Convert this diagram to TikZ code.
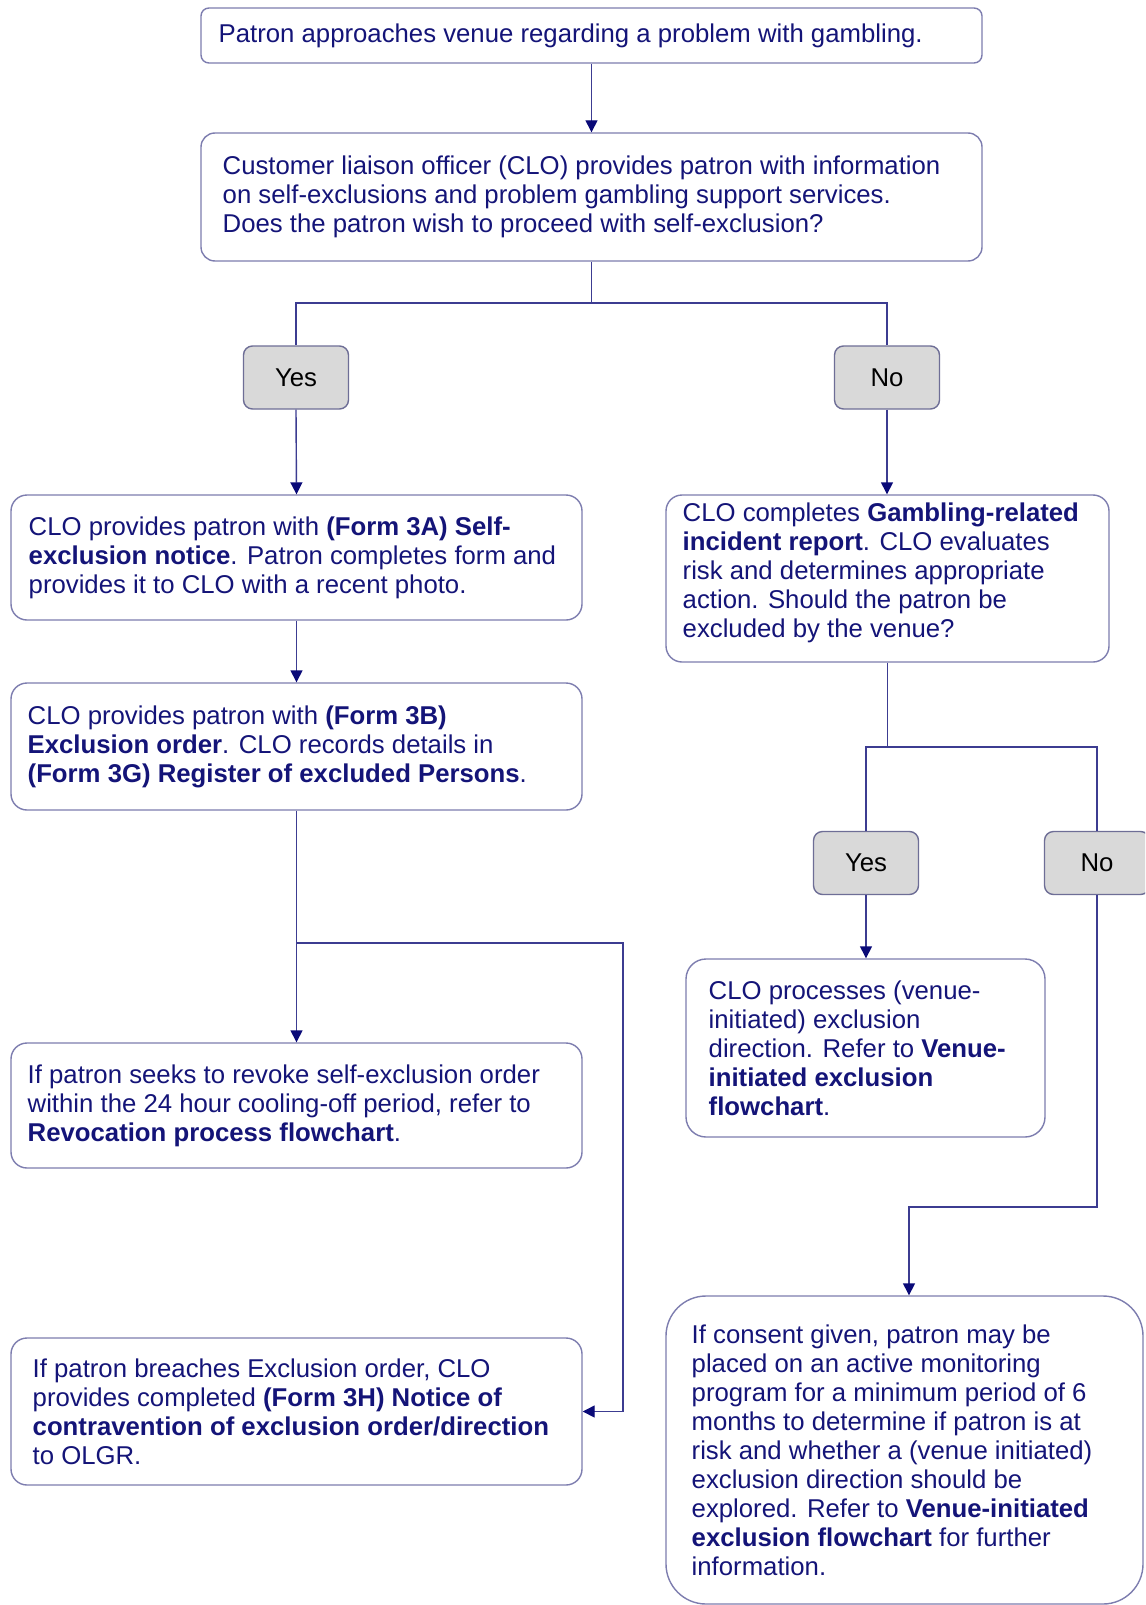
\documentclass[tikz,border=0pt]{standalone}
\usepackage{fontspec}
\setmainfont{Liberation Sans}
\usetikzlibrary{arrows.meta}
\definecolor{txtc}{RGB}{20,20,120}
\definecolor{linec}{RGB}{60,60,145}
\definecolor{arrc}{RGB}{10,10,120}
\definecolor{bordc}{RGB}{125,125,175}
\definecolor{ynfill}{RGB}{217,217,217}
\definecolor{ynbord}{RGB}{110,110,150}
\begin{document}
\begin{tikzpicture}[x=0.5pt,y=-0.5pt,
  flowbox/.style={draw=bordc, line width=0.7pt, fill=white, rounded corners=#1, inner sep=0pt},
  ynbox/.style={draw=ynbord, line width=0.7pt, fill=ynfill, rounded corners=4.5pt, inner sep=0pt,
     minimum width=52.5pt, minimum height=31.5pt, text=black, font=\fontsize{12.87}{14.5}\selectfont},
  txt/.style={anchor=west, align=left, text=txtc, inner sep=0pt, font=\fontsize{12.87}{14.5}\selectfont},
  conn/.style={draw=linec, line width=0.7pt},
  arr/.style={draw=linec, line width=0.7pt, -{Triangle[length=6pt,width=6pt,color=arrc]}}
]
\useasboundingbox (0,0) rectangle (1145,1605);
\clip (0,0) rectangle (1145,1605);
\fill[white] (0,0) rectangle (1145,1605);

% boxes
\node[flowbox=4pt, minimum width=390.5pt, minimum height=27.5pt] (n1) at (591.5,35.5) {};
\node[flowbox=7pt, minimum width=390.5pt, minimum height=64pt] (n2) at (591.5,197) {};
\node[ynbox] (y1) at (296,377.5) {Yes};
\node[ynbox] (no1) at (887,377.5) {No};
\node[flowbox=8pt, minimum width=285.5pt, minimum height=62.5pt] (n3) at (296.5,557.5) {};
\node[flowbox=8pt, minimum width=221.5pt, minimum height=83.5pt] (n4) at (887.5,578.5) {};
\node[flowbox=8pt, minimum width=285.5pt, minimum height=63.5pt] (n5) at (296.5,746.5) {};
\node[ynbox] (y2) at (866,863) {Yes};
\node[ynbox] (no2) at (1097,863) {No};
\node[flowbox=10pt, minimum width=179.5pt, minimum height=89pt] (n6) at (865.5,1048) {};
\node[flowbox=8pt, minimum width=285.5pt, minimum height=62.5pt] (n7) at (296.5,1105.5) {};
\node[flowbox=8pt, minimum width=285.5pt, minimum height=73.5pt] (n8) at (296.5,1411.5) {};
\node[flowbox=20pt, minimum width=238.5pt, minimum height=154pt] (n9) at (904.5,1450) {};

% texts
\node[txt] (t1) at ([xshift=9pt]n1.west) {Patron approaches venue regarding a problem with gambling.};
\node[txt] (t2) at ([xshift=11pt]n2.west) {Customer liaison officer (CLO) provides patron with information\\on self-exclusions and problem gambling support services.\\Does the patron wish to proceed with self-exclusion?};
\node[txt] (t3) at ([xshift=9pt]n3.west) {CLO provides patron with \textbf{(Form 3A) Self-}\\\textbf{exclusion notice}. Patron completes form and\\provides it to CLO with a recent photo.};
\node[txt] (t4) at ([xshift=8.5pt,yshift=3pt]n4.west) {CLO completes \textbf{Gambling-related}\\\textbf{incident report}. CLO evaluates\\risk and determines appropriate\\action. Should the patron be\\excluded by the venue?};
\node[txt] (t5) at ([xshift=8.5pt]n5.west) {CLO provides patron with \textbf{(Form 3B)}\\\textbf{Exclusion order}. CLO records details in\\\textbf{(Form 3G) Register of excluded Persons}.};
\node[txt] (t6) at ([xshift=11.5pt]n6.west) {CLO processes (venue-\\initiated) exclusion\\direction. Refer to \textbf{Venue-}\\\textbf{initiated exclusion}\\\textbf{flowchart}.};
\node[txt] (t7) at ([xshift=8.5pt]n7.west) {If patron seeks to revoke self-exclusion order\\within the 24 hour cooling-off period, refer to\\\textbf{Revocation process flowchart}.};
\node[txt] (t8) at ([xshift=11pt]n8.west) {If patron breaches Exclusion order, CLO\\provides completed \textbf{(Form 3H) Notice of}\\\textbf{contravention of exclusion order/direction}\\to OLGR.};
\node[txt] (t9) at ([xshift=13pt]n9.west) {If consent given, patron may be\\placed on an active monitoring\\program for a minimum period of 6\\months to determine if patron is at\\risk and whether a (venue initiated)\\exclusion direction should be\\explored. Refer to \textbf{Venue-initiated}\\\textbf{exclusion flowchart} for further\\information.};

% junction coordinates
\coordinate (b1) at (591.5,303);
\coordinate (b2) at (296.5,943);
\coordinate (c2) at (623,1411.5);
\coordinate (b3) at (887.5,747);
\coordinate (c3) at (1097,1207);
\coordinate (c4) at (909,1207);

% connectors
\draw[arr] (n1.south) -- (n2.north);
\draw[conn] (n2.south) -- (b1);
\draw[conn] (b1) -| (y1.north);
\draw[conn] (b1) -| (no1.north);
\draw[arr] (y1.south) -- (n3.north);
\draw[arr] (no1.south) -- (no1.south |- n4.north);
\draw[arr] (n3.south) -- (n5.north);
\draw[arr] (n5.south) -- (n7.north);
\draw[arr] (b2) -| (c2) -- (n8.east);
\draw[conn] (n4.south) -- (b3);
\draw[conn] (b3) -| (y2.north);
\draw[conn] (b3) -| (no2.north);
\draw[arr] (y2.south) -- (y2.south |- n6.north);
\draw[arr] (no2.south) -- (c3) -- (c4) -- (c4 |- n9.north);
\end{tikzpicture}
\end{document}
